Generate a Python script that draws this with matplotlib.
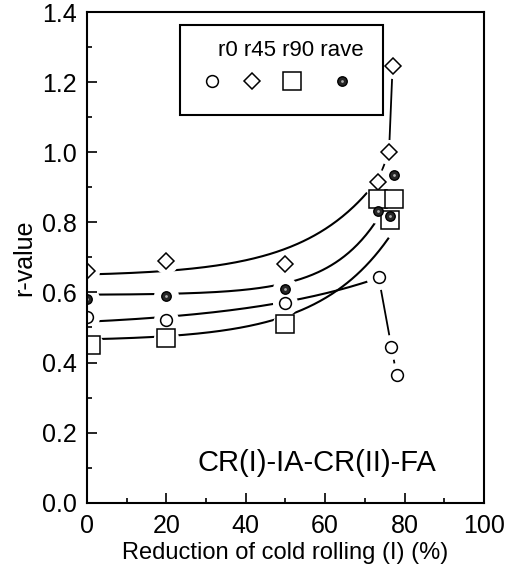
import matplotlib
matplotlib.use("Agg")
import matplotlib.pyplot as plt
from matplotlib.patches import Rectangle
from matplotlib.ticker import MultipleLocator
import numpy as np

plt.rcParams['font.family'] = ['Liberation Sans', 'DejaVu Sans']

# measured points (reduction %, r-value)
r0_x = [0, 20, 50, 73.5, 76.7, 78.0]
r0_y = [0.53, 0.52, 0.57, 0.643, 0.445, 0.365]
r45_x = [0, 20, 50, 73.2, 76.1, 77.0]
r45_y = [0.66, 0.69, 0.68, 0.915, 1.00, 1.245]
r90_x = [1, 20, 50, 73.2, 77.4, 76.3]
r90_y = [0.45, 0.47, 0.51, 0.866, 0.866, 0.807]
rave_x = [0, 20, 50, 73.2, 76.3, 77.4]
rave_y = [0.58, 0.59, 0.61, 0.833, 0.818, 0.935]

# fitted trend curves y = a + b*exp(x/t), drawn up to x_end
fit_names = ['r0', 'r45', 'r90', 'rave']
fit_a = [0.4968, 0.646, 0.4617, 0.593]
fit_b = [0.01956, 0.00526, 0.00451, 0.00059]
fit_t = [36.7, 18.5, 18.2, 12.4]
fit_end = [70.4, 70.4, 75.9, 72.5]

fig = plt.figure(figsize=(5.17, 5.75), dpi=100)
ax = fig.add_axes([0.168, 0.1257, 0.768, 0.8534])
ax.set_axisbelow(False)

ax.set_xlim(0, 100)
ax.set_ylim(0, 1.4)

for a, b, t, xe in zip(fit_a, fit_b, fit_t, fit_end):
    xx = np.linspace(0, xe, 200)
    ax.plot(xx, a + b * np.exp(xx / t), color='black', lw=1.5, zorder=1.2)

# short connecting lines in the high-reduction cluster
ax.plot(r0_x[3:], r0_y[3:], color='black', lw=1.3, zorder=1.2)
ax.plot(r45_x[3:], r45_y[3:], color='black', lw=1.3, zorder=1.2)

# white halos so the lines stop short of the symbols
all_x = r0_x + r45_x + r90_x + rave_x
all_y = r0_y + r45_y + r90_y + rave_y
ax.plot(all_x, all_y, 'o', ms=18, mfc='white', mec='none', ls='none', zorder=1.4)

ax.plot(r0_x, r0_y, 'o', ms=8.5, mfc='white', mec='black', mew=1.1, ls='none', zorder=2)
ax.plot(r45_x, r45_y, 'D', ms=8.5, mfc='white', mec='black', mew=1.1, ls='none', zorder=2)
ax.plot(r90_x, r90_y, 's', ms=13, mfc='white', mec='black', mew=1.1, ls='none', zorder=2)
ax.plot(rave_x, rave_y, 'o', ms=6.8, mfc='#262626', mec='black', mew=1, ls='none', zorder=2.1)
ax.plot(rave_x, rave_y, 'o', ms=2, mfc='#b0b0b0', mec='none', ls='none', zorder=2.2)

# legend box drawn by hand
ax.add_patch(Rectangle((0.234, 0.790), 0.512, 0.1835, transform=ax.transAxes,
                       fill=False, edgecolor='black', lw=1.5, zorder=3))
ax.text(0.513, 0.922, 'r0 r45 r90 rave', transform=ax.transAxes,
        ha='center', va='center', fontsize=16)
ax.plot([0.315], [0.859], 'o', ms=8.5, mfc='white', mec='black', mew=1.1, transform=ax.transAxes)
ax.plot([0.416], [0.859], 'D', ms=8.5, mfc='white', mec='black', mew=1.1, transform=ax.transAxes)
ax.plot([0.516], [0.859], 's', ms=13, mfc='white', mec='black', mew=1.1, transform=ax.transAxes)
ax.plot([0.642], [0.859], 'o', ms=6.8, mfc='#262626', mec='black', mew=1, transform=ax.transAxes)
ax.plot([0.642], [0.859], 'o', ms=2, mfc='#b0b0b0', mec='none', transform=ax.transAxes)

ax.text(0.579, 0.081, 'CR(I)-IA-CR(II)-FA', transform=ax.transAxes,
        ha='center', va='center', fontsize=21)

ax.xaxis.set_major_locator(MultipleLocator(20))
ax.xaxis.set_minor_locator(MultipleLocator(10))
ax.yaxis.set_major_locator(MultipleLocator(0.2))
ax.yaxis.set_minor_locator(MultipleLocator(0.1))
ax.yaxis.set_major_formatter(plt.FormatStrFormatter('%.1f'))
ax.tick_params(which='both', direction='in', top=False, right=False, width=1.2)
ax.tick_params(which='major', length=7.5, labelsize=18)
ax.tick_params(which='minor', length=3.5)
ax.tick_params(axis='y', pad=7)
ax.tick_params(axis='x', pad=8)

for s in ax.spines.values():
    s.set_linewidth(1.5)

ax.set_xlabel('Reduction of cold rolling (I) (%)', fontsize=17, labelpad=3)
ax.set_ylabel('r-value', fontsize=18, labelpad=4)

fig.savefig('out.png', dpi=100)
